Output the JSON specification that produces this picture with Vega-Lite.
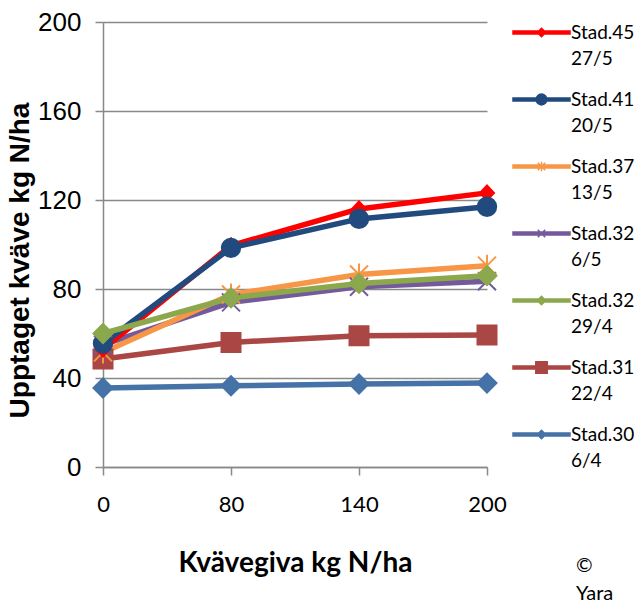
{
  "$schema": "https://vega.github.io/schema/vega-lite/v6.json",
  "width": 384,
  "height": 445,
  "autosize": {"type": "none"},
  "padding": {"left": 103, "top": 22, "right": 153, "bottom": 135},
  "background": "white",
  "config": {"view": {"stroke": null}, "font": "Lato", "style": {"guide-label": {"lineHeight": 26}}},
  "title": {"text": ["©", "Yara"], "orient": "bottom", "anchor": "end", "frame": "group", "align": "left", "dx": 89, "offset": -21, "fontSize": 20, "font": "Lato", "fontWeight": "normal", "lineHeight": 28, "color": "black"},
  "data": {"values": [
    {"s": "Stad.30 6/4", "n": 0, "v": 35.5}, {"s": "Stad.30 6/4", "n": 80, "v": 36.5}, {"s": "Stad.30 6/4", "n": 140, "v": 37.3}, {"s": "Stad.30 6/4", "n": 200, "v": 37.7},
    {"s": "Stad.31 22/4", "n": 0, "v": 48.5}, {"s": "Stad.31 22/4", "n": 80, "v": 56}, {"s": "Stad.31 22/4", "n": 140, "v": 59}, {"s": "Stad.31 22/4", "n": 200, "v": 59.3},
    {"s": "Stad.32 6/5", "n": 0, "v": 55}, {"s": "Stad.32 6/5", "n": 80, "v": 74}, {"s": "Stad.32 6/5", "n": 140, "v": 81}, {"s": "Stad.32 6/5", "n": 200, "v": 83.5},
    {"s": "Stad.37 13/5", "n": 0, "v": 51.5}, {"s": "Stad.37 13/5", "n": 80, "v": 77.5}, {"s": "Stad.37 13/5", "n": 140, "v": 86.5}, {"s": "Stad.37 13/5", "n": 200, "v": 90.5},
    {"s": "Stad.45 27/5", "n": 0, "v": 53}, {"s": "Stad.45 27/5", "n": 80, "v": 99.5}, {"s": "Stad.45 27/5", "n": 140, "v": 116}, {"s": "Stad.45 27/5", "n": 200, "v": 123.2},
    {"s": "Stad.41 20/5", "n": 0, "v": 55.5}, {"s": "Stad.41 20/5", "n": 80, "v": 98.5}, {"s": "Stad.41 20/5", "n": 140, "v": 111.5}, {"s": "Stad.41 20/5", "n": 200, "v": 117},
    {"s": "Stad.32 29/4", "n": 0, "v": 60}, {"s": "Stad.32 29/4", "n": 80, "v": 76}, {"s": "Stad.32 29/4", "n": 140, "v": 82.5}, {"s": "Stad.32 29/4", "n": 200, "v": 86}
  ]},
  "encoding": {
    "x": {"field": "n", "type": "ordinal", "scale": {"type": "point", "padding": 0, "domain": [0, 80, 140, 200]},
      "axis": {"title": "Kvävegiva kg N/ha", "labelAngle": 0, "grid": false, "domainColor": "#898989", "domainWidth": 1.5, "tickColor": "#898989", "tickWidth": 1.5, "tickSize": 8,
        "labelFont": "Lato", "labelFontSize": 22, "labelColor": "black", "labelPadding": 19,
        "titleFont": "Lato", "titleFontSize": 28, "titleFontWeight": "bold", "titleColor": "black", "titlePadding": 34}},
    "y": {"field": "v", "type": "quantitative", "scale": {"domain": [0, 200], "nice": false},
      "axis": {"values": [0, 40, 80, 120, 160, 200], "title": "Upptaget kväve kg N/ha", "grid": true, "gridColor": "#898989", "gridWidth": 1.5,
        "domainColor": "#898989", "domainWidth": 1.5, "tickColor": "#898989", "tickWidth": 1.5, "tickSize": 8,
        "labelFont": "Liberation Sans", "labelFontSize": 26, "labelColor": "black", "labelPadding": 14,
        "titleFont": "Liberation Sans", "titleFontSize": 28, "titleFontWeight": "bold", "titleColor": "black", "titlePadding": 3, "titleY": 238}}
  },
  "layer": [
    {
      "mark": {"type": "line", "strokeWidth": 5.5, "strokeJoin": "round"},
      "encoding": {
        "color": {"field": "s", "type": "nominal", "legend": null,
          "scale": {"domain": ["Stad.45 27/5", "Stad.41 20/5", "Stad.37 13/5", "Stad.32 6/5", "Stad.32 29/4", "Stad.31 22/4", "Stad.30 6/4"],
            "range": ["#FF0000", "#214B7E", "#F79646", "#745A9B", "#8BA84D", "#AA4643", "#4572A7"]}}
      }
    },
    {
      "transform": [{"filter": "datum.s === 'Stad.30 6/4'"}],
      "mark": {"type": "point", "filled": true, "opacity": 1, "size": 400, "strokeWidth": 2, "color": "#4572A7", "stroke": "#4572A7", "shape": "M-0.95,0L0,-0.95L0.95,0L0,0.95Z"}
    },
    {
      "transform": [{"filter": "datum.s === 'Stad.31 22/4'"}],
      "mark": {"type": "point", "filled": true, "opacity": 1, "size": 400, "strokeWidth": 2, "color": "#AA4643", "stroke": "#AA4643", "shape": "M-0.95,-0.95H0.95V0.95H-0.95Z"}
    },
    {
      "transform": [{"filter": "datum.s === 'Stad.32 6/5'"}],
      "mark": {"type": "point", "filled": true, "opacity": 1, "size": 400, "strokeWidth": 2, "color": "#745A9B", "stroke": "#745A9B", "shape": "M-0.9,-0.9L0.9,0.9M-0.9,0.9L0.9,-0.9"}
    },
    {
      "transform": [{"filter": "datum.s === 'Stad.37 13/5'"}],
      "mark": {"type": "point", "filled": true, "opacity": 1, "size": 400, "strokeWidth": 2, "color": "#F79646", "stroke": "#F79646", "shape": "M-0.9,-0.9L0.9,0.9M-0.9,0.9L0.9,-0.9M0,-1.1L0,1.1"}
    },
    {
      "transform": [{"filter": "datum.s === 'Stad.45 27/5'"}],
      "mark": {"type": "point", "filled": true, "opacity": 1, "size": 400, "strokeWidth": 2, "color": "#FF0000", "stroke": "#FF0000", "shape": "M-0.7,0L0,-0.75L0.7,0L0,0.75Z"}
    },
    {
      "transform": [{"filter": "datum.s === 'Stad.41 20/5'"}],
      "mark": {"type": "point", "filled": true, "opacity": 1, "size": 400, "strokeWidth": 2, "color": "#214B7E", "stroke": "#214B7E", "shape": "M-0.92,0A0.92,0.92,0,1,1,0.92,0A0.92,0.92,0,1,1,-0.92,0Z"}
    },
    {
      "transform": [{"filter": "datum.s === 'Stad.32 29/4'"}],
      "mark": {"type": "point", "filled": true, "opacity": 1, "size": 400, "strokeWidth": 2, "color": "#8BA84D", "stroke": "#8BA84D", "shape": "M-0.95,0L0,-0.95L0.95,0L0,0.95Z"}
    },
    {
      "mark": {"type": "point", "filled": true, "opacity": 0, "size": 3249, "strokeWidth": 1.5},
      "encoding": {
        "color": {"field": "s", "type": "nominal",
          "legend": {"title": null, "orient": "none", "legendX": 409, "legendY": -19, "padding": 0, "symbolSize": 3249, "symbolStrokeWidth": 1.5, "symbolOpacity": 1, "labelFont": "Lato", "labelFontSize": 19, "labelColor": "black", "labelLimit": 300, "labelOffset": 0, "rowPadding": 1, "labelExpr": "split(datum.label, ' ')",
            "encode": {"labels": {"update": {"lineHeight": {"value": 26}}}}},
          "scale": {"domain": ["Stad.45 27/5", "Stad.41 20/5", "Stad.37 13/5", "Stad.32 6/5", "Stad.32 29/4", "Stad.31 22/4", "Stad.30 6/4"],
            "range": ["#FF0000", "#214B7E", "#F79646", "#745A9B", "#8BA84D", "#AA4643", "#4572A7"]}},
        "stroke": {"field": "s", "type": "nominal",
          "legend": {"title": null, "orient": "none", "legendX": 409, "legendY": -19, "padding": 0, "symbolSize": 3249, "symbolStrokeWidth": 1.5, "symbolOpacity": 1, "labelFont": "Lato", "labelFontSize": 19, "labelColor": "black", "labelLimit": 300, "labelOffset": 0, "rowPadding": 1, "labelExpr": "split(datum.label, ' ')",
            "encode": {"labels": {"update": {"lineHeight": {"value": 26}}}}},
          "scale": {"domain": ["Stad.45 27/5", "Stad.41 20/5", "Stad.37 13/5", "Stad.32 6/5", "Stad.32 29/4", "Stad.31 22/4", "Stad.30 6/4"],
            "range": ["#FF0000", "#214B7E", "#F79646", "#745A9B", "#8BA84D", "#AA4643", "#4572A7"]}},
        "shape": {"field": "s", "type": "nominal",
          "legend": {"title": null, "orient": "none", "legendX": 409, "legendY": -19, "padding": 0, "symbolSize": 3249, "symbolStrokeWidth": 1.5, "symbolOpacity": 1, "labelFont": "Lato", "labelFontSize": 19, "labelColor": "black", "labelLimit": 300, "labelOffset": 0, "rowPadding": 1, "labelExpr": "split(datum.label, ' ')",
            "encode": {"labels": {"update": {"lineHeight": {"value": 26}}}}},
          "scale": {"domain": ["Stad.45 27/5", "Stad.41 20/5", "Stad.37 13/5", "Stad.32 6/5", "Stad.32 29/4", "Stad.31 22/4", "Stad.30 6/4"],
            "range": [
              "M-1,-0.05H1V0.05H-1ZM-0.15,0L0,-0.15L0.15,0L0,0.15Z",
              "M-1,-0.05H1V0.05H-1ZM-0.19,0A0.19,0.19,0,1,1,0.19,0A0.19,0.19,0,1,1,-0.19,0Z",
              "M-1,-0.05H1V0.05H-1ZM-0.13,-0.13L0.13,0.13M-0.13,0.13L0.13,-0.13M0,-0.17L0,0.17",
              "M-1,-0.05H1V0.05H-1ZM-0.13,-0.13L0.13,0.13M-0.13,0.13L0.13,-0.13",
              "M-1,-0.05H1V0.05H-1ZM-0.15,0L0,-0.15L0.15,0L0,0.15Z",
              "M-1,-0.05H1V0.05H-1ZM-0.2,-0.2H0.2V0.2H-0.2Z",
              "M-1,-0.05H1V0.05H-1ZM-0.15,0L0,-0.15L0.15,0L0,0.15Z"]}}
      }
    }
  ],
  "resolve": {"scale": {"color": "independent", "stroke": "independent", "shape": "independent"}}
}
